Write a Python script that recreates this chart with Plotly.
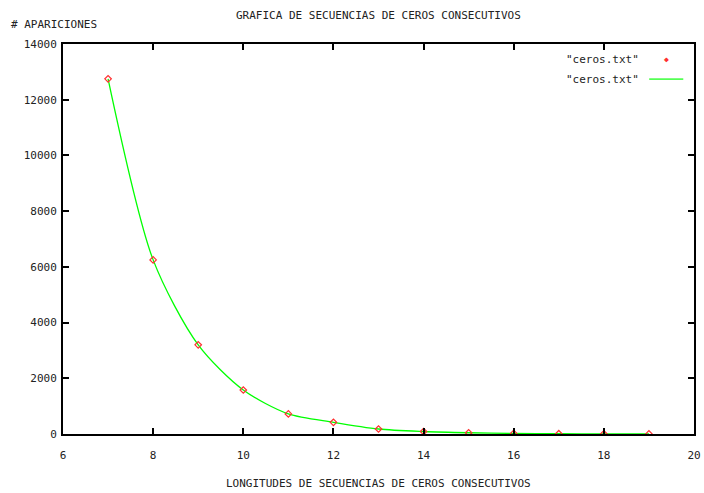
import plotly.graph_objects as go

longitudes = [7, 8, 9, 10, 11, 12, 13, 14, 15, 16, 17, 18, 19]
apariciones = [12750, 6250, 3200, 1580, 720, 420, 180, 90, 45, 20, 10, 5, 2]
x_ticks = [6, 8, 10, 12, 14, 16, 18, 20]
y_ticks = [0, 2000, 4000, 6000, 8000, 10000, 12000, 14000]
legend_name = '"ceros.txt"'
title_text = "GRAFICA DE SECUENCIAS DE CEROS CONSECUTIVOS"
x_title = "LONGITUDES DE SECUENCIAS DE CEROS CONSECUTIVOS"
y_title = "# APARICIONES"

FONT = "DejaVu Sans Mono"
GREEN = "#00ff00"
RED = "#ff3030"

fig = go.Figure()
fig.add_trace(go.Scatter(
    x=longitudes, y=apariciones, mode="lines", line=dict(color=GREEN, width=1.3, shape="spline", smoothing=0.8),
    name=legend_name, showlegend=False, hoverinfo="skip"))
fig.add_trace(go.Scatter(
    x=longitudes, y=apariciones, mode="markers",
    marker=dict(symbol="diamond-open", size=5, color=RED, line=dict(width=1.2, color=RED)),
    name=legend_name, showlegend=False))

axis_common = dict(
    showline=True, linecolor="black", linewidth=2, mirror="allticks",
    ticks="inside", ticklen=6, tickwidth=2, tickcolor="black",
    showgrid=False, zeroline=False, automargin=False,
    tickfont=dict(family=FONT, size=11, color="#222"),
)
fig.update_layout(
    width=704, height=493,
    margin=dict(l=63, r=10, t=44, b=59, autoexpand=False),
    paper_bgcolor="white", plot_bgcolor="white",
    showlegend=False,
    xaxis=dict(range=[6, 20], tickvals=x_ticks, ticktext=[str(v) for v in x_ticks],
               ticklabelstandoff=10, **axis_common),
    yaxis=dict(range=[0, 14000], tickvals=y_ticks, ticktext=[str(v) for v in y_ticks],
               ticklabelstandoff=2, **axis_common),
)

ann_font = dict(family=FONT, size=11, color="#222")
fig.add_annotation(text=title_text, xref="paper", yref="paper", x=0.5, y=1, yshift=29,
                   showarrow=False, font=ann_font, xanchor="center", yanchor="middle")
fig.add_annotation(text=x_title, xref="paper", yref="paper", x=0.5, y=0, yshift=-49,
                   showarrow=False, font=ann_font, xanchor="center", yanchor="middle")
fig.add_annotation(text=y_title, xref="paper", yref="paper", x=0, xshift=-54, y=1, yshift=20,
                   showarrow=False, font=ann_font, xanchor="left", yanchor="middle")

# Legend (gnuplot style: text then sample)
for i, yy in enumerate([0.96, 0.91]):
    fig.add_annotation(text=legend_name, xref="paper", yref="paper", x=0.916, y=yy,
                       showarrow=False, font=ann_font, xanchor="right", yanchor="middle")
fig.add_shape(type="line", xref="paper", yref="paper", x0=0.929, x1=0.983, y0=0.91, y1=0.91,
              line=dict(color="#55ff55", width=1.8))
fig.add_annotation(text="\u25c6", xref="paper", yref="paper", x=0.956, y=0.96, showarrow=False,
                   font=dict(family=FONT, size=8, color=RED), xanchor="center", yanchor="middle")

fig.write_html("out.html")
